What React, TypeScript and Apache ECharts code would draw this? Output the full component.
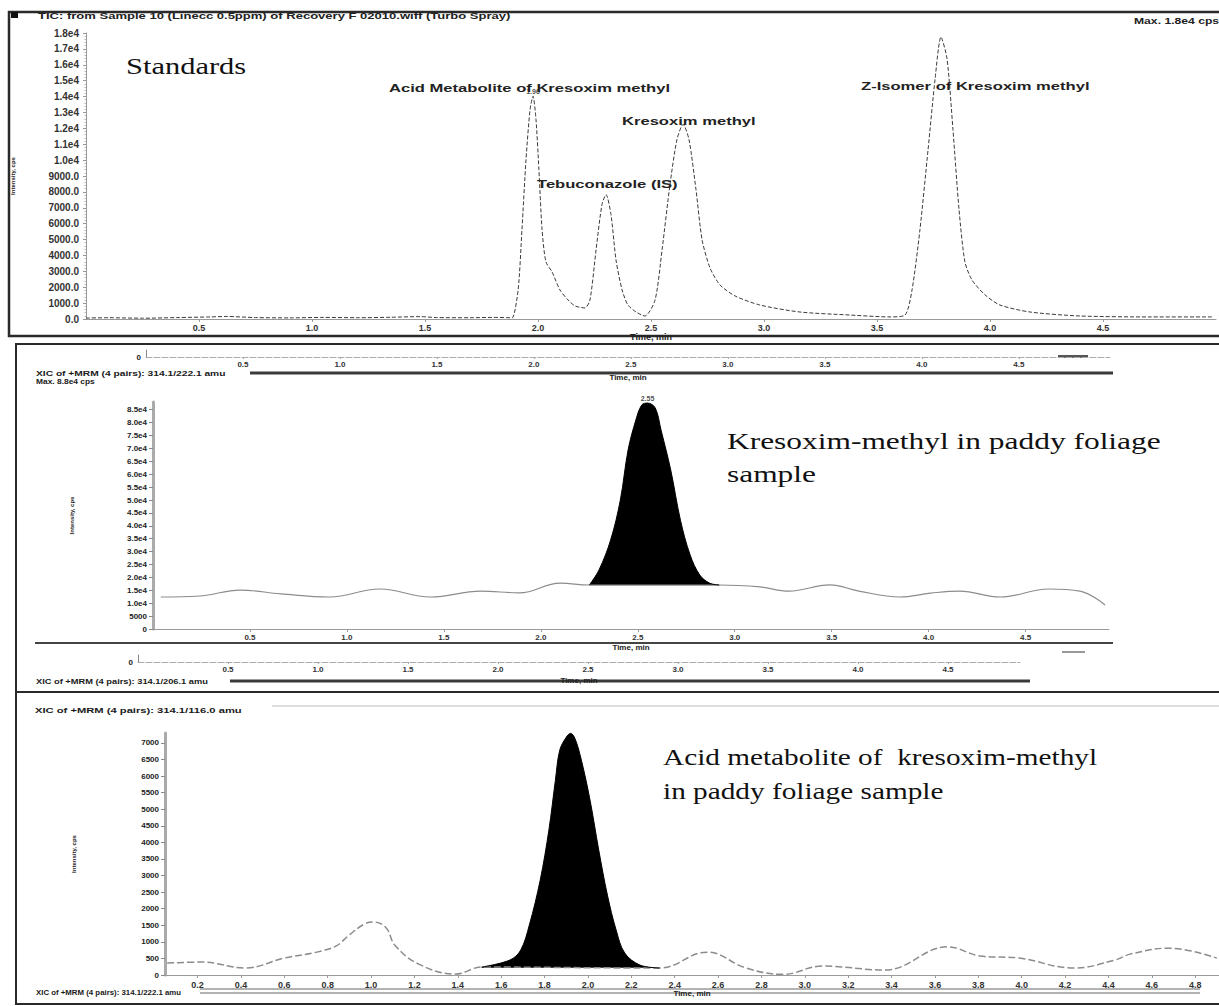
import React, { useEffect, useRef } from "react";
import * as echarts from "echarts";

// ---------- Top panel: TIC of standards ----------
const topTime = [0.0, 0.1, 0.25, 0.4, 0.55, 0.62, 0.75, 0.9, 1.05, 1.2, 1.35, 1.48, 1.55, 1.7, 1.8, 1.86, 1.885, 1.912, 1.929, 1.947, 1.965, 1.978, 1.991, 2.004, 2.018, 2.035, 2.062, 2.097, 2.133, 2.164, 2.208, 2.23, 2.257, 2.283, 2.301, 2.323, 2.345, 2.372, 2.398, 2.434, 2.473, 2.518, 2.549, 2.584, 2.615, 2.642, 2.668, 2.699, 2.726, 2.761, 2.805, 2.872, 2.982, 3.159, 3.381, 3.558, 3.624, 3.655, 3.69, 3.726, 3.757, 3.783, 3.81, 3.836, 3.863, 3.889, 3.92, 3.978, 4.044, 4.177, 4.398, 4.708, 4.982];
const topIntensity = [60, 80, 50, 90, 130, 160, 90, 70, 100, 80, 110, 150, 90, 80, 100, 90, 63, 1830, 5620, 10040, 13200, 14020, 12570, 9410, 5620, 3600, 2970, 1830, 1200, 820, 700, 1200, 4360, 7200, 7830, 6570, 3730, 1830, 880, 440, 190, 1200, 4360, 8460, 11300, 12250, 11300, 8150, 4990, 3220, 2150, 1450, 880, 440, 250, 130, 250, 1830, 5620, 10670, 15100, 17750, 16360, 11940, 6880, 3600, 2460, 1520, 880, 440, 190, 130, 130];
const topXLabels = [0.5, 1.0, 1.5, 2.0, 2.5, 3.0, 3.5, 4.0, 4.5];
const topYTicks = [0, 1000, 2000, 3000, 4000, 5000, 6000, 7000, 8000, 9000, 10000, 11000, 12000, 13000, 14000, 15000, 16000, 17000, 18000];

// ---------- Middle panel: Kresoxim-methyl in paddy foliage ----------
const midBaseTime = [0.04, 0.24, 0.45, 0.66, 0.91, 1.17, 1.43, 1.69, 1.89, 2.1, 2.25, 2.92, 3.13, 3.28, 3.49, 3.64, 3.85, 4.01, 4.16, 4.37, 4.62, 4.78, 4.91];
const midBaseIntensity = [12400, 12800, 15100, 13600, 12400, 15500, 12400, 14700, 14000, 17800, 17050, 17050, 16300, 14700, 17100, 14700, 12400, 13900, 14700, 12400, 15500, 14700, 9300];
const midPeakTime = [2.25, 2.3, 2.36, 2.41, 2.45, 2.49, 2.52, 2.55, 2.59, 2.62, 2.67, 2.72, 2.77, 2.82, 2.87, 2.92];
const midPeakIntensity = [17050, 22900, 34500, 50000, 69400, 81000, 86800, 87600, 85700, 77100, 61600, 42200, 28700, 20900, 17800, 17050];
const midXLabels = [0.5, 1.0, 1.5, 2.0, 2.5, 3.0, 3.5, 4.0, 4.5];
const midYTicks = [0, 5000, 10000, 15000, 20000, 25000, 30000, 35000, 40000, 45000, 50000, 55000, 60000, 65000, 70000, 75000, 80000, 85000];
const midPeakLabel = "2.55";

// ---------- Bottom panel: Acid metabolite in paddy foliage ----------
const botBaseTime = [0.06, 0.22, 0.42, 0.6, 0.75, 0.84, 0.9, 0.97, 1.01, 1.07, 1.11, 1.22, 1.39, 1.51, 2.33, 2.55, 2.73, 2.9, 3.08, 3.37, 3.66, 3.81, 3.99, 4.24, 4.43, 4.5, 4.68, 4.9];
const botBaseIntensity = [360, 390, 210, 510, 690, 880, 1210, 1540, 1600, 1420, 900, 330, 30, 240, 210, 690, 210, 20, 270, 150, 850, 570, 510, 210, 450, 630, 810, 510];
const botPeakTime = [1.51, 1.64, 1.69, 1.73, 1.78, 1.82, 1.85, 1.87, 1.9, 1.92, 1.94, 1.97, 2.01, 2.05, 2.09, 2.13, 2.17, 2.24, 2.33];
const botPeakIntensity = [240, 450, 750, 1510, 2860, 4370, 5870, 6780, 7170, 7290, 7140, 6480, 5270, 3770, 2410, 1360, 660, 300, 210];
const botXLabels = [0.2, 0.4, 0.6, 0.8, 1.0, 1.2, 1.4, 1.6, 1.8, 2.0, 2.2, 2.4, 2.6, 2.8, 3.0, 3.2, 3.4, 3.6, 3.8, 4.0, 4.2, 4.4, 4.6, 4.8];
const botYTicks = [0, 500, 1000, 1500, 2000, 2500, 3000, 3500, 4000, 4500, 5000, 5500, 6000, 6500, 7000];

// ---------- Texts ----------
const topHeader = "TIC: from Sample 10 (Linecc 0.5ppm) of Recovery F 02010.wiff (Turbo Spray)";
const topMax = "Max. 1.8e4 cps";
const peakNames = ["Acid Metabolite of Kresoxim methyl", "Tebuconazole (IS)", "Kresoxim methyl", "Z-Isomer of Kresoxim methyl"];
const acidRT = "1.96";

const pairs = (xs: number[], ys: number[]) => xs.map((x, i) => [x, ys[i]]);

const SANS = "Liberation Sans";
const SERIF = "Liberation Serif";

const txt = (text: string, x: number, y: number, size: number, o: any = {}) => ({
  type: "text",
  x,
  y,
  scaleX: o.sx ?? 1,
  silent: true,
  z: 10,
  style: {
    text,
    fontSize: size,
    fontFamily: o.family ?? SANS,
    fontWeight: o.weight ?? "bold",
    fill: o.color ?? "#222",
    align: "left",
    verticalAlign: "middle",
  },
});
const hline = (x1: number, x2: number, y: number, w: number, c: string) => ({
  type: "line",
  silent: true,
  shape: { x1, y1: y, x2, y2: y },
  style: { stroke: c, lineWidth: w },
});
const box = (x: number, y: number, w: number, h: number, lw = 2) => ({
  type: "rect",
  silent: true,
  shape: { x, y, width: w, height: h },
  style: { fill: "none", stroke: "#2a2a2a", lineWidth: lw },
});

const axisBase = {
  axisLine: { show: true, onZero: false, lineStyle: { color: "#9a9a9a", width: 1 } },
  axisTick: { show: true, length: 3, lineStyle: { color: "#9a9a9a" } },
  splitLine: { show: false },
};

function topYFmt(v: number) {
  if (v < 10000) return v.toFixed(1);
  return (v / 10000).toFixed(1) + "e4";
}
function midYFmt(v: number) {
  if (v < 10000) return String(v);
  return (v / 10000).toFixed(1) + "e4";
}

export default function App() {
  const ref = useRef<HTMLDivElement>(null);
  useEffect(() => {
    if (!ref.current) return;
    const chart = echarts.init(ref.current, undefined, { renderer: "svg" });
    const option: any = {
      animation: false,
      backgroundColor: "#ffffff",
      textStyle: { fontFamily: SANS },
      grid: [
        { left: 86, top: 33, width: 1130, height: 286 },
        { left: 153, top: 402, width: 956, height: 227 },
        { left: 165, top: 733, width: 1054, height: 242 },
        { left: 146, top: 350, width: 964, height: 7 },
        { left: 138, top: 655, width: 882, height: 7 },
      ],
      xAxis: [
        {
          ...axisBase, gridIndex: 0, type: "value", min: 0, max: 5,
          axisLabel: { customValues: topXLabels, fontSize: 9, fontWeight: "bold", color: "#333", margin: 4, formatter: (v: number) => v.toFixed(1) },
          axisTick: { show: true, length: 3, customValues: topXLabels, lineStyle: { color: "#9a9a9a" } },
          name: "Time, min", nameLocation: "middle", nameGap: 12,
          nameTextStyle: { fontSize: 9, fontWeight: "bold", color: "#222" },
        },
        {
          ...axisBase, gridIndex: 1, type: "value", min: 0, max: 4.93,
          axisLabel: { customValues: midXLabels, fontSize: 8, fontWeight: "bold", color: "#333", margin: 4, formatter: (v: number) => v.toFixed(1) },
          axisTick: { show: true, length: 3, customValues: midXLabels, lineStyle: { color: "#9a9a9a" } },
          name: "Time, min", nameLocation: "middle", nameGap: 14,
          nameTextStyle: { fontSize: 8, fontWeight: "bold", color: "#222" },
        },
        {
          ...axisBase, gridIndex: 2, type: "value", min: 0.05, max: 4.91,
          axisLabel: { customValues: botXLabels, fontSize: 9, fontWeight: "bold", color: "#333", margin: 5, formatter: (v: number) => v.toFixed(1) },
          axisTick: { show: true, length: 3, customValues: botXLabels, lineStyle: { color: "#9a9a9a" } },
          name: "Time, min", nameLocation: "middle", nameGap: 11,
          nameTextStyle: { fontSize: 8, fontWeight: "bold", color: "#222" },
        },
        {
          ...axisBase, gridIndex: 3, type: "value", min: 0, max: 4.97,
          axisLabel: { customValues: midXLabels, fontSize: 8, fontWeight: "bold", color: "#333", margin: 3, formatter: (v: number) => v.toFixed(1) },
          axisTick: { show: true, length: 2, customValues: midXLabels, lineStyle: { color: "#aaa" } },
          axisLine: { show: true, lineStyle: { color: "#aaa", width: 1, type: [6, 2] } },
          name: "Time, min", nameLocation: "middle", nameGap: 16,
          nameTextStyle: { fontSize: 8, fontWeight: "bold", color: "#222" },
        },
        {
          ...axisBase, gridIndex: 4, type: "value", min: 0, max: 4.9,
          axisLabel: { customValues: midXLabels, fontSize: 8, fontWeight: "bold", color: "#333", margin: 3, formatter: (v: number) => v.toFixed(1) },
          axisTick: { show: true, length: 2, customValues: midXLabels, lineStyle: { color: "#aaa" } },
          axisLine: { show: true, lineStyle: { color: "#aaa", width: 1, type: [6, 2] } },
          name: "Time, min", nameLocation: "middle", nameGap: 14,
          nameTextStyle: { fontSize: 8, fontWeight: "bold", color: "#222" },
        },
      ],
      yAxis: [
        {
          ...axisBase, gridIndex: 0, type: "value", min: 0, max: 18000, interval: 1000,
          axisLabel: { customValues: topYTicks, fontSize: 10, fontWeight: "bold", color: "#333", margin: 7, formatter: topYFmt },
          minorTick: { show: true, splitNumber: 5, length: 1.5, lineStyle: { color: "#bbb" } },
          name: "Intensity, cps", nameLocation: "middle", nameGap: 70, nameRotate: 90,
          nameTextStyle: { fontSize: 6, fontWeight: "bold", color: "#222" },
        },
        {
          ...axisBase, gridIndex: 1, type: "value", min: 0, max: 88000,
          axisLine: { show: true, lineStyle: { color: "#aaa", width: 3 } },
          axisLabel: { customValues: midYTicks, fontSize: 8, fontWeight: "bold", color: "#222", margin: 6, formatter: midYFmt },
          axisTick: { show: true, length: 4, customValues: midYTicks, lineStyle: { color: "#888" } },
          name: "Intensity, cps", nameLocation: "middle", nameGap: 78, nameRotate: 90,
          nameTextStyle: { fontSize: 6, fontWeight: "bold", color: "#222" },
        },
        {
          ...axisBase, gridIndex: 2, type: "value", min: 0, max: 7300,
          axisLine: { show: true, lineStyle: { color: "#aaa", width: 3 } },
          axisLabel: { customValues: botYTicks, fontSize: 8, fontWeight: "bold", color: "#222", margin: 6, formatter: (v: number) => String(v) },
          axisTick: { show: true, length: 4, customValues: botYTicks, lineStyle: { color: "#888" } },
          name: "Intensity, cps", nameLocation: "middle", nameGap: 88, nameRotate: 90,
          nameTextStyle: { fontSize: 6, fontWeight: "bold", color: "#222" },
        },
        {
          gridIndex: 3, type: "value", min: 0, max: 1,
          axisLine: { show: true, lineStyle: { color: "#888" } },
          axisTick: { show: false },
          splitLine: { show: false },
          axisLabel: { customValues: [0], fontSize: 8, fontWeight: "bold", color: "#222", margin: 5 },
        },
        {
          gridIndex: 4, type: "value", min: 0, max: 1,
          axisLine: { show: true, lineStyle: { color: "#888" } },
          axisTick: { show: false },
          splitLine: { show: false },
          axisLabel: { customValues: [0], fontSize: 8, fontWeight: "bold", color: "#222", margin: 5 },
        },
      ],
      series: [
        {
          type: "line", xAxisIndex: 0, yAxisIndex: 0, data: pairs(topTime, topIntensity),
          symbol: "none", smooth: 0.25,
          lineStyle: { color: "#3a3a3a", width: 1, type: [4, 2] },
        },
        {
          type: "scatter", xAxisIndex: 0, yAxisIndex: 0, data: [[topTime[21], topIntensity[21]]],
          symbolSize: 1, itemStyle: { color: "rgba(0,0,0,0)" },
          label: { show: true, position: "top", distance: 1, formatter: acidRT, fontSize: 7, fontWeight: "bold", color: "#222" },
        },
        {
          type: "line", xAxisIndex: 1, yAxisIndex: 1, data: pairs(midBaseTime, midBaseIntensity),
          symbol: "none", smooth: 0.4,
          lineStyle: { color: "#8c8c8c", width: 1.2 },
        },
        {
          type: "line", xAxisIndex: 1, yAxisIndex: 1, data: pairs(midPeakTime, midPeakIntensity),
          symbol: "none", smooth: 0.35,
          lineStyle: { color: "#000", width: 1 },
          areaStyle: { color: "#000", opacity: 1, origin: 17000 },
        },
        {
          type: "scatter", xAxisIndex: 1, yAxisIndex: 1, data: [[midPeakTime[7], midPeakIntensity[7]]],
          symbolSize: 1, itemStyle: { color: "rgba(0,0,0,0)" },
          label: { show: true, position: "top", distance: 1, formatter: midPeakLabel, fontSize: 7, fontWeight: "bold", color: "#222" },
        },
        {
          type: "line", xAxisIndex: 2, yAxisIndex: 2, data: pairs(botBaseTime, botBaseIntensity),
          symbol: "none", smooth: 0.4,
          lineStyle: { color: "#8c8c8c", width: 1.5, type: [7, 3] },
        },
        {
          type: "line", xAxisIndex: 2, yAxisIndex: 2, data: pairs(botPeakTime, botPeakIntensity),
          symbol: "none", smooth: 0.35,
          lineStyle: { color: "#000", width: 1 },
          areaStyle: { color: "#000", opacity: 1, origin: 220 },
        },
      ],
      graphic: [
        // panel frames
        box(9, 12, 1215, 324, 2.5),
        box(16, 344, 1210, 348),
        box(16, 692, 1210, 312),
        // top panel texts
        { type: "rect", silent: true, shape: { x: 11, y: 12, width: 7, height: 6 }, style: { fill: "#111" } },
        txt(topHeader, 38, 16, 9, { sx: 1.45 }),
        txt(topMax, 1134, 21, 9, { sx: 1.35 }),
        txt("Standards", 126, 66, 24, { family: SERIF, weight: "normal", sx: 1.27, color: "#111" }),
        txt(peakNames[0], 389, 89, 10, { sx: 1.66 }),
        txt(peakNames[1], 537, 185, 10, { sx: 1.66 }),
        txt(peakNames[2], 622, 122, 10, { sx: 1.66 }),
        txt(peakNames[3], 861, 87, 10, { sx: 1.66 }),
        // middle panel chrome
        hline(250, 1113, 373, 3, "#3a3a3a"),
        txt("XIC of +MRM (4 pairs): 314.1/222.1 amu", 36, 373, 8, { sx: 1.28, color: "#1a1a1a" }),
        txt("Max. 8.8e4 cps", 36, 382, 8, { sx: 1.05, color: "#1a1a1a" }),
        { type: "rect", silent: true, shape: { x: 1058, y: 355, width: 30, height: 3 }, style: { fill: "#555" } },
        hline(35, 1113, 643, 2, "#444"),
        hline(1062, 1085, 652, 1.5, "#777"),
        hline(230, 1030, 681, 3, "#3a3a3a"),
        txt("XIC of +MRM (4 pairs): 314.1/206.1 amu", 36, 681, 8, { sx: 1.16, color: "#1a1a1a" }),
        txt("Kresoxim-methyl in paddy foliage", 727, 441, 24, { family: SERIF, weight: "normal", sx: 1.31, color: "#111" }),
        txt("sample", 727, 474, 24, { family: SERIF, weight: "normal", sx: 1.31, color: "#111" }),
        // bottom panel chrome
        txt("XIC of +MRM (4 pairs): 314.1/116.0 amu", 35, 710, 8, { sx: 1.4, color: "#1a1a1a" }),
        hline(272, 1219, 706, 1, "#bbb"),
        txt("XIC of +MRM (4 pairs): 314.1/222.1 amu", 36, 992, 8, { sx: 0.98, color: "#1a1a1a" }),
        hline(200, 1200, 989, 1, "#666"),
        hline(200, 1200, 993, 1, "#666"),
        txt("Acid metabolite of  kresoxim-methyl", 663, 757, 24, { family: SERIF, weight: "normal", sx: 1.22, color: "#111" }),
        txt("in paddy foliage sample", 663, 791, 24, { family: SERIF, weight: "normal", sx: 1.22, color: "#111" }),
      ],
    };
    chart.setOption(option);
    return () => chart.dispose();
  }, []);
  return (
    <div
      ref={ref}
      style={{ position: "absolute", left: 0, top: 0, width: 1219, height: 1006, background: "#fff" }}
    />
  );
}
